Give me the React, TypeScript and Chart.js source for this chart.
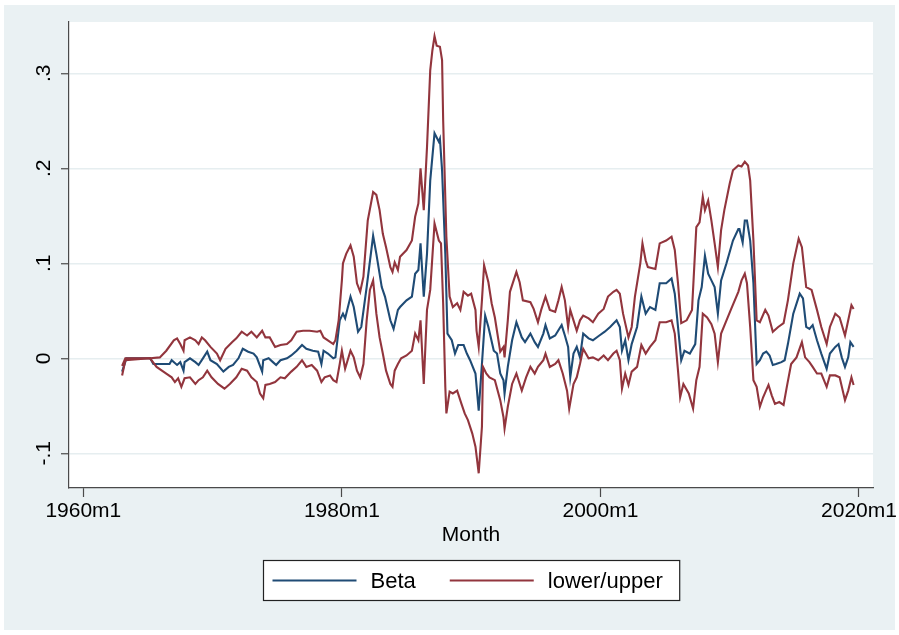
import React, { useEffect, useRef } from 'react';
import { Chart, registerables } from 'chart.js';

Chart.register(...registerables);

// Months are Stata %tm values: 0 = 1960m1
const xTickMonths = [0, 240, 480, 720];
const yTickValues = [-0.1, 0, 0.1, 0.2, 0.3];

const betaMonths = [
  36, 40, 62, 65, 80, 82, 87, 90, 93, 94,
  99, 104, 107, 111, 115, 118, 124, 130, 135, 139,
  144, 148, 153, 158, 161, 166, 167, 172, 176, 179,
  183, 189, 193, 198, 203, 207, 213, 218, 221, 223,
  227, 232, 234, 238, 241, 243, 248, 251, 255, 258,
  263, 269, 272, 277, 280, 285, 288, 292, 294, 300,
  305, 308, 311, 313, 316, 319, 322, 326, 330, 331,
  333, 336, 338, 342, 345, 348, 353, 356, 359, 364,
  367, 370, 373, 376, 381, 384, 387, 390, 391, 394,
  398, 402, 407, 410, 415, 419, 422, 427, 429, 433,
  438, 444, 447, 450, 452, 455, 458, 461, 464, 469,
  473, 479, 484, 489, 495, 498, 500, 503, 506, 509,
  514, 518, 522, 526, 531, 535, 541, 546, 549, 552,
  555, 558, 563, 568, 571, 574, 577, 580, 583, 586,
  589, 592, 597, 603, 608, 609, 612, 614, 616, 619,
  622, 625, 628, 631, 634, 637, 640, 643, 648, 651,
  654, 659, 665, 668, 671, 674, 677, 681, 685, 690,
  693, 698, 701, 704, 707, 710, 712, 715,
];
const betaValues = [
  -0.014, 0, 0, -0.006, -0.006, -0.002, -0.007, -0.004, -0.013, -0.004,
  0, -0.004, -0.007, 0, 0.007, -0.002, -0.006, -0.014, -0.009, -0.007,
  0, 0.01, 0.007, 0.005, 0.001, -0.014, -0.002, 0, -0.004, -0.007,
  -0.002, 0, 0.003, 0.008, 0.014, 0.01, 0.008, 0.007, -0.006, 0.008,
  0.005, 0, 0.001, 0.04, 0.047, 0.042, 0.065, 0.054, 0.028, 0.033,
  0.075, 0.129, 0.11, 0.075, 0.065, 0.04, 0.031, 0.051, 0.054, 0.061,
  0.065, 0.089, 0.093, 0.121, 0.065, 0.11, 0.187, 0.237, 0.228, 0.231,
  0.198, 0.11, 0.026, 0.019, 0.005, 0.014, 0.014, 0.005, -0.002, -0.016,
  -0.055, -0.006, 0.045, 0.033, 0.008, 0.005, -0.016, -0.023, -0.037, -0.009,
  0.019, 0.038, 0.022, 0.017, 0.026, 0.017, 0.012, 0.026, 0.035, 0.021,
  0.024, 0.035, 0.024, 0.012, -0.02, 0.005, 0.012, 0.001, 0.026, 0.021,
  0.019, 0.024, 0.028, 0.033, 0.04, 0.033, 0.008, 0.019, -0.002, 0.015,
  0.033, 0.065, 0.047, 0.054, 0.051, 0.079, 0.079, 0.084, 0.068, 0.033,
  -0.002, 0.008, 0.005, 0.015, 0.061, 0.075, 0.108, 0.089, 0.082, 0.075,
  0.047, 0.082, 0.1, 0.124, 0.136, 0.136, 0.122, 0.145, 0.145, 0.124,
  0.079, -0.006, -0.002, 0.005, 0.007, 0.003, -0.007, -0.006, -0.004, -0.002,
  0.015, 0.047, 0.068, 0.063, 0.033, 0.031, 0.035, 0.019, 0.005, -0.011,
  0.005, 0.012, 0.015, 0.001, -0.009, 0.001, 0.017, 0.012,
];

const upperMonths = [
  36, 39, 62, 71, 77, 84, 87, 90, 93, 94,
  99, 104, 107, 110, 113, 118, 124, 127, 132, 138,
  142, 147, 152, 156, 161, 166, 169, 173, 178, 183,
  189, 193, 198, 204, 210, 217, 220, 223, 227, 232,
  234, 237, 240, 241, 244, 248, 251, 254, 257, 260,
  264, 269, 272, 275, 278, 281, 285, 287, 289, 292,
  294, 300, 305, 308, 311, 313, 316, 319, 322, 324,
  326, 328, 331, 333, 334, 337, 340, 343, 347, 350,
  353, 357, 360, 364, 365, 367, 370, 372, 376, 379,
  382, 387, 390, 391, 394, 396, 402, 405, 408, 415,
  418, 422, 425, 429, 433, 438, 441, 444, 447, 450,
  452, 455, 458, 461, 464, 469, 473, 478, 483, 487,
  492, 495, 498, 501, 506, 509, 512, 517, 519, 522,
  524, 531, 535, 541, 546, 549, 552, 555, 560, 565,
  569, 572, 575, 577, 580, 583, 586, 589, 592, 595,
  600, 603, 608, 611, 614, 617, 619, 622, 625, 628,
  633, 636, 640, 645, 650, 654, 659, 664, 667, 671,
  676, 681, 685, 690, 693, 698, 702, 707, 710, 713,
  715,
];
const upperValues = [
  -0.008, 0, 0, 0.001, 0.008, 0.019, 0.021, 0.015, 0.008, 0.019,
  0.022, 0.019, 0.015, 0.022, 0.019, 0.012, 0.005, -0.002, 0.01, 0.017,
  0.021, 0.028, 0.024, 0.028, 0.022, 0.029, 0.022, 0.022, 0.012, 0.014,
  0.015, 0.019, 0.028, 0.029, 0.029, 0.028, 0.029, 0.022, 0.019, 0.015,
  0.019, 0.04, 0.082, 0.1, 0.11, 0.119, 0.107, 0.079, 0.07, 0.086,
  0.145, 0.175, 0.172, 0.156, 0.131, 0.117, 0.096, 0.091, 0.101, 0.093,
  0.107, 0.114, 0.124, 0.149, 0.163, 0.2, 0.156, 0.222, 0.303, 0.324,
  0.339, 0.329, 0.328, 0.314, 0.251, 0.128, 0.065, 0.054, 0.058, 0.051,
  0.07, 0.066, 0.068, 0.051, 0.029, 0.012, 0.061, 0.098, 0.08, 0.058,
  0.043, 0.007, 0.012, 0.001, 0.04, 0.07, 0.091, 0.08, 0.061, 0.059,
  0.052, 0.038, 0.051, 0.065, 0.051, 0.049, 0.061, 0.075, 0.061, 0.033,
  0.051, 0.04, 0.029, 0.04, 0.045, 0.042, 0.038, 0.047, 0.052, 0.065,
  0.07, 0.072, 0.068, 0.047, 0.022, 0.033, 0.065, 0.1, 0.121, 0.103,
  0.096, 0.094, 0.121, 0.124, 0.128, 0.114, 0.079, 0.037, 0.04, 0.051,
  0.138, 0.143, 0.17, 0.156, 0.166, 0.145, 0.121, 0.096, 0.135, 0.156,
  0.184, 0.198, 0.203, 0.202, 0.207, 0.203, 0.187, 0.124, 0.04, 0.038,
  0.051, 0.045, 0.028, 0.033, 0.037, 0.061, 0.1, 0.126, 0.117, 0.075,
  0.072, 0.051, 0.033, 0.015, 0.033, 0.047, 0.043, 0.024, 0.04, 0.056,
  0.052,
];

const lowerMonths = [
  36, 39, 62, 68, 77, 82, 85, 88, 91, 94,
  99, 104, 107, 111, 115, 119, 125, 131, 136, 142,
  147, 152, 156, 161, 164, 167, 169, 173, 178, 183,
  187, 193, 198, 203, 207, 212, 217, 221, 224, 229,
  232, 235, 238, 240, 243, 248, 251, 254, 257, 260,
  263, 266, 269, 272, 275, 278, 281, 285, 287, 289,
  292, 295, 300, 305, 308, 311, 313, 316, 319, 322,
  326, 330, 332, 334, 336, 337, 340, 343, 347, 351,
  354, 357, 361, 364, 367, 370, 371, 374, 377, 382,
  387, 390, 391, 394, 398, 402, 407, 411, 415, 419,
  422, 427, 429, 433, 438, 441, 445, 449, 451, 455,
  458, 461, 464, 469, 473, 478, 483, 487, 492, 495,
  498, 500, 503, 506, 509, 514, 518, 522, 526, 531,
  535, 541, 546, 549, 552, 554, 557, 562, 566, 569,
  572, 575, 579, 583, 586, 589, 592, 597, 601, 608,
  611, 614, 616, 619, 622, 625, 628, 631, 636, 639,
  642, 646, 650, 653, 657, 662, 667, 670, 674, 677,
  681, 685, 690, 693, 698, 702, 707, 710, 713, 715,
];
const lowerValues = [
  -0.018, -0.002, 0, -0.009, -0.016, -0.02, -0.025, -0.021, -0.03, -0.021,
  -0.02, -0.027, -0.023, -0.02, -0.013, -0.02, -0.027, -0.032, -0.027, -0.02,
  -0.011, -0.013, -0.02, -0.025, -0.037, -0.042, -0.028, -0.027, -0.025, -0.02,
  -0.021, -0.014, -0.009, -0.002, -0.009, -0.007, -0.013, -0.025, -0.02, -0.018,
  -0.023, -0.025, -0.006, 0.008, -0.011, 0.008, 0.001, -0.013, -0.02, -0.006,
  0.04, 0.072, 0.082, 0.047, 0.022, 0.005, -0.013, -0.027, -0.03, -0.013,
  -0.006, 0, 0.003, 0.008, 0.026, 0.019, 0.04, -0.027, 0.051, 0.072,
  0.142, 0.124, 0.121, 0.058, -0.03, -0.058, -0.035, -0.037, -0.034, -0.048,
  -0.058, -0.065, -0.079, -0.093, -0.121, -0.072, -0.009, -0.016, -0.02, -0.023,
  -0.044, -0.062, -0.074, -0.051, -0.027, -0.016, -0.034, -0.02, -0.009, -0.016,
  -0.009, -0.002, 0.005, -0.009, -0.006, -0.002, -0.016, -0.034, -0.053, -0.027,
  -0.02, -0.006, 0.01, 0, 0.001, -0.002, 0.003, -0.002, 0.005, 0.008,
  -0.002, -0.032, -0.016, -0.028, -0.014, -0.009, 0.014, 0.005, 0.012, 0.019,
  0.038, 0.038, 0.04, 0.026, -0.013, -0.041, -0.027, -0.037, -0.053, -0.023,
  -0.009, 0.047, 0.043, 0.036, 0.026, -0.004, 0.026, 0.04, 0.051, 0.07,
  0.082, 0.089, 0.079, 0.033, -0.023, -0.03, -0.051, -0.041, -0.028, -0.039,
  -0.048, -0.046, -0.049, -0.03, -0.006, 0.001, 0.017, 0.001, -0.004, -0.009,
  -0.016, -0.016, -0.03, -0.018, -0.018, -0.02, -0.044, -0.034, -0.02, -0.028,
];

const BLUE = '#1f4b75';
const RED = '#92353d';
const FONT = '"Liberation Sans", Arial, Helvetica, sans-serif';
const AXIS = '#4a4a4a';
const LINE_W = 2.1;

const toPoints = (ms: number[], vs: number[]) => ms.map((m, i) => ({ x: m, y: vs[i] }));

const fmtMonth = (v: number) => `${1960 + Math.floor(v / 12)}m${(((v % 12) + 12) % 12) + 1}`;
const fmtY = (v: number) => {
  const r = Math.round(v * 10);
  if (r === 0) return '0';
  return (r < 0 ? '-' : '') + '.' + Math.abs(r);
};

const stataPlugin = {
  id: 'stataLook',
  beforeDraw(chart: any) {
    const { ctx, width, height, chartArea } = chart;
    ctx.save();
    ctx.fillStyle = '#ffffff';
    ctx.fillRect(0, 0, width, height);
    ctx.fillStyle = '#eaf1f3';
    ctx.fillRect(4, 5, width - 8, height - 10);
    ctx.fillStyle = '#ffffff';
    ctx.fillRect(chartArea.left, chartArea.top, chartArea.right - chartArea.left, chartArea.bottom - chartArea.top);
    ctx.restore();
  },
  afterDraw(chart: any) {
    const { ctx, chartArea } = chart;
    const ys = chart.scales.y;
    ctx.save();
    ctx.fillStyle = '#000';
    ctx.font = `21px ${FONT}`;
    ys.ticks.forEach((t: any) => {
      const py = ys.getPixelForValue(t.value);
      ctx.save();
      ctx.translate(ys.right - 25, py);
      ctx.rotate(-Math.PI / 2);
      ctx.textAlign = 'center';
      ctx.textBaseline = 'middle';
      ctx.fillText(String(t.label), 0, 0);
      ctx.restore();
    });

    // legend (two keys: Beta, lower/upper)
    const items = [chart.data.datasets[2], chart.data.datasets[0]].map((d: any) => ({ label: d.legendLabel, color: d.borderColor }));
    ctx.font = `22px ${FONT}`;
    const sample = 84, gapText = 14, gapItem = 34, padL = 9, padR = 17;
    const widths = items.map((it) => ctx.measureText(it.label).width);
    const boxW = padL + items.reduce((s, _it, i) => s + sample + gapText + widths[i], 0) + gapItem * (items.length - 1) + padR;
    const boxH = 40;
    const cx = (chartArea.left + chartArea.right) / 2;
    const bx = Math.round(cx - boxW / 2) + 0.5;
    const by = Math.round(chart.scales.x.bottom + 10) + 0.5;
    ctx.fillStyle = '#ffffff';
    ctx.fillRect(bx, by, boxW, boxH);
    ctx.strokeStyle = '#222';
    ctx.lineWidth = 1.2;
    ctx.strokeRect(bx, by, boxW, boxH);
    let x = bx + padL;
    const midY = by + boxH / 2;
    items.forEach((it, i) => {
      ctx.strokeStyle = it.color;
      ctx.lineWidth = LINE_W;
      ctx.beginPath();
      ctx.moveTo(x, midY);
      ctx.lineTo(x + sample, midY);
      ctx.stroke();
      x += sample + gapText;
      ctx.fillStyle = '#000';
      ctx.textAlign = 'left';
      ctx.textBaseline = 'middle';
      ctx.fillText(it.label, x, midY + 1);
      x += widths[i] + gapItem;
    });
    ctx.restore();
  },
};

export default function App() {
  const ref = useRef<HTMLCanvasElement>(null);
  useEffect(() => {
    document.body.style.margin = '0';
    const canvas = ref.current;
    if (!canvas) return;
    const chart = new Chart(canvas, {
      type: 'line',
      data: {
        datasets: [
          {
            label: 'upper',
            legendLabel: 'lower/upper',
            data: toPoints(upperMonths, upperValues),
            borderColor: RED,
            borderWidth: LINE_W,
            pointRadius: 0,
            tension: 0,
            order: 0,
          } as any,
          {
            label: 'lower',
            legendLabel: 'lower/upper',
            data: toPoints(lowerMonths, lowerValues),
            borderColor: RED,
            borderWidth: LINE_W,
            pointRadius: 0,
            tension: 0,
            order: 0,
          } as any,
          {
            label: 'Beta',
            legendLabel: 'Beta',
            data: toPoints(betaMonths, betaValues),
            borderColor: BLUE,
            borderWidth: LINE_W,
            pointRadius: 0,
            tension: 0,
            order: 1,
          } as any,
        ],
      },
      options: {
        responsive: false,
        animation: false,
        devicePixelRatio: 1,
        layout: { padding: { left: 0, top: 22, right: 26, bottom: 85 } },
        plugins: { legend: { display: false }, tooltip: { enabled: false } },
        scales: {
          x: {
            type: 'linear',
            min: -13.3,
            max: 733,
            afterBuildTicks: (s: any) => {
              s.ticks = xTickMonths.map((v) => ({ value: v }));
            },
            afterFit: (s: any) => {
              s.height = 62;
              s.paddingLeft = 0;
              s.paddingRight = 0;
            },
            ticks: {
              autoSkip: false,
              maxRotation: 0,
              minRotation: 0,
              padding: 2,
              color: '#000',
              font: { family: FONT, size: 21 },
              callback: (v: any) => fmtMonth(Number(v)),
            },
            grid: {
              display: true,
              drawOnChartArea: false,
              drawTicks: true,
              tickLength: 9,
              tickColor: AXIS,
              tickWidth: 1.2,
            },
            border: { display: true, color: AXIS, width: 1.2 },
            title: {
              display: true,
              text: 'Month',
              color: '#000',
              font: { family: FONT, size: 21 },
              padding: { top: 0, bottom: 2 },
            },
          },
          y: {
            type: 'linear',
            min: -0.1365,
            max: 0.354,
            afterBuildTicks: (s: any) => {
              s.ticks = yTickValues.map((v) => ({ value: v }));
            },
            afterFit: (s: any) => {
              s.width = 69;
              s.paddingTop = 0;
              s.paddingBottom = 0;
            },
            ticks: {
              display: false,
              callback: (v: any) => fmtY(Number(v)),
            },
            grid: {
              display: true,
              drawOnChartArea: true,
              color: '#e6eef0',
              lineWidth: 1.5,
              drawTicks: true,
              tickLength: 8,
              tickColor: AXIS,
              tickWidth: 1.2,
            },
            border: { display: true, color: AXIS, width: 1.2 },
          },
        },
      },
      plugins: [stataPlugin],
    } as any);
    return () => chart.destroy();
  }, []);
  return (
    <div style={{ position: 'relative', width: 899, height: 635, background: '#fff' }}>
      <canvas ref={ref} width={899} height={635} style={{ display: 'block', width: 899, height: 635 }} />
    </div>
  );
}
